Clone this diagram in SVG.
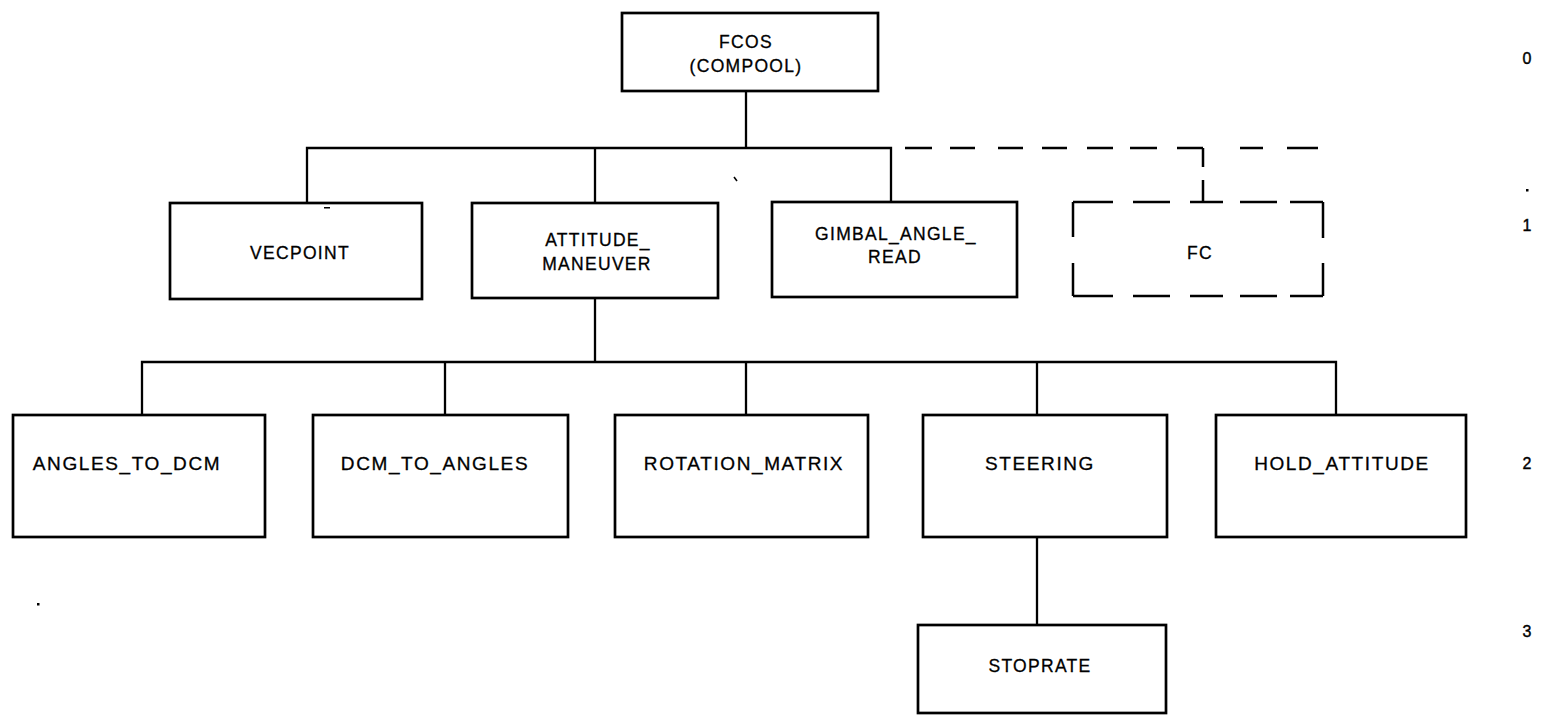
<svg xmlns="http://www.w3.org/2000/svg" width="1549" height="715" viewBox="0 0 1549 715">
  <style>
    .box { fill: #ffffff; stroke: #000000; stroke-width: 2.7; }
    .wire { fill: none; stroke: #000000; stroke-width: 2.3; }
    .dash { fill: none; stroke: #000000; stroke-width: 2.5; }
    .t1 { font-family: "Liberation Sans", Arial, sans-serif; font-size: 17.5px; letter-spacing: 1.3px; fill: #000000; stroke: #000000; stroke-width: 0.3; text-anchor: middle; }
    .t2 { font-family: "Liberation Sans", Arial, sans-serif; font-size: 19px; letter-spacing: 1.6px; fill: #000000; stroke: #000000; stroke-width: 0.3; text-anchor: middle; }
    .lvl { font-family: "Liberation Sans", Arial, sans-serif; font-size: 16px; fill: #000000; stroke: #000000; stroke-width: 0.4; text-anchor: middle; }
    .speck { fill: #000000; }
  </style>
  <rect width="1549" height="715" fill="#ffffff"/>

  <!-- tree connectors -->
  <g id="connectors">
    <path class="wire" d="M746 91 V148"/>
    <path class="wire" d="M307 203 V148 H891 V202"/>
    <path class="wire" d="M595 148 V203"/>
    <!-- optional branch to FC, drawn dashed -->
    <path class="dash" d="M905 148 H932 M950 148 H975 M998 148 H1023 M1042 148 H1067 M1087 148 H1113 M1130 148 H1157 M1177 148 H1203 M1240 148 H1263 M1287 148 H1318"/>
    <path class="dash" d="M1203 148 V167 M1203 180 V202"/>
    <path class="wire" d="M595 298 V362"/>
    <path class="wire" d="M142 415 V362 H1336 V415"/>
    <path class="wire" d="M445 362 V415"/>
    <path class="wire" d="M746 362 V415"/>
    <path class="wire" d="M1037 362 V415"/>
    <path class="wire" d="M1037 537 V625"/>
  </g>

  <!-- level 0 -->
  <g id="fcos">
    <rect class="box" x="622" y="13" width="256" height="78"/>
    <text class="t1" x="746" y="48">FCOS</text>
    <text class="t1" x="746" y="72">(COMPOOL)</text>
  </g>

  <!-- level 1 -->
  <g id="vecpoint">
    <rect class="box" x="170" y="203" width="252" height="96"/>
    <text class="t1" x="300" y="259">VECPOINT</text>
  </g>
  <g id="attitude-maneuver">
    <rect class="box" x="472" y="203" width="246" height="95"/>
    <text class="t1" x="598" y="246">ATTITUDE_</text>
    <text class="t1" x="597" y="270">MANEUVER</text>
  </g>
  <g id="gimbal-angle-read">
    <rect class="box" x="772" y="202" width="245" height="95"/>
    <text class="t1" x="896" y="240">GIMBAL_ANGLE_</text>
    <text class="t1" x="895" y="263">READ</text>
  </g>
  <g id="fc">
    <path class="dash" d="M1073 202 H1113 M1133 202 H1170 M1190 202 H1223 M1240 202 H1277 M1290 202 H1323
                          M1073 296 H1113 M1133 296 H1170 M1190 296 H1223 M1240 296 H1277 M1290 296 H1323
                          M1073 202 V237 M1073 263 V296
                          M1323 202 V238 M1323 263 V296"/>
    <text class="t1" x="1200" y="259">FC</text>
  </g>

  <!-- level 2 -->
  <g id="angles-to-dcm">
    <rect class="box" x="13" y="415" width="252" height="122"/>
    <text class="t2" x="127" y="470">ANGLES_TO_DCM</text>
  </g>
  <g id="dcm-to-angles">
    <rect class="box" x="313" y="415" width="255" height="122"/>
    <text class="t2" x="435" y="470">DCM_TO_ANGLES</text>
  </g>
  <g id="rotation-matrix">
    <rect class="box" x="615" y="415" width="253" height="122"/>
    <text class="t2" x="744" y="470">ROTATION_MATRIX</text>
  </g>
  <g id="steering">
    <rect class="box" x="923" y="415" width="244" height="122"/>
    <text class="t2" x="1040" y="470">STEERING</text>
  </g>
  <g id="hold-attitude">
    <rect class="box" x="1216" y="415" width="250" height="122"/>
    <text class="t2" x="1342" y="470">HOLD_ATTITUDE</text>
  </g>

  <!-- level 3 -->
  <g id="stoprate">
    <rect class="box" x="918" y="625" width="248" height="88"/>
    <text class="t1" x="1040" y="672">STOPRATE</text>
  </g>

  <!-- level numbers -->
  <g id="levels">
    <text class="lvl" x="1527" y="64">0</text>
    <text class="lvl" x="1527" y="231">1</text>
    <text class="lvl" x="1527" y="469">2</text>
    <text class="lvl" x="1527" y="637">3</text>
  </g>

  <!-- stray marks -->
  <g id="specks">
    <rect class="speck" x="1526" y="189" width="2.5" height="2.5"/>
    <rect class="speck" x="37" y="603" width="2.5" height="2.5"/>
    <rect class="speck" x="324" y="207" width="6" height="1.5"/>
    <path d="M734 177 L737 181" stroke="#000" stroke-width="1.5"/>
  </g>
</svg>
